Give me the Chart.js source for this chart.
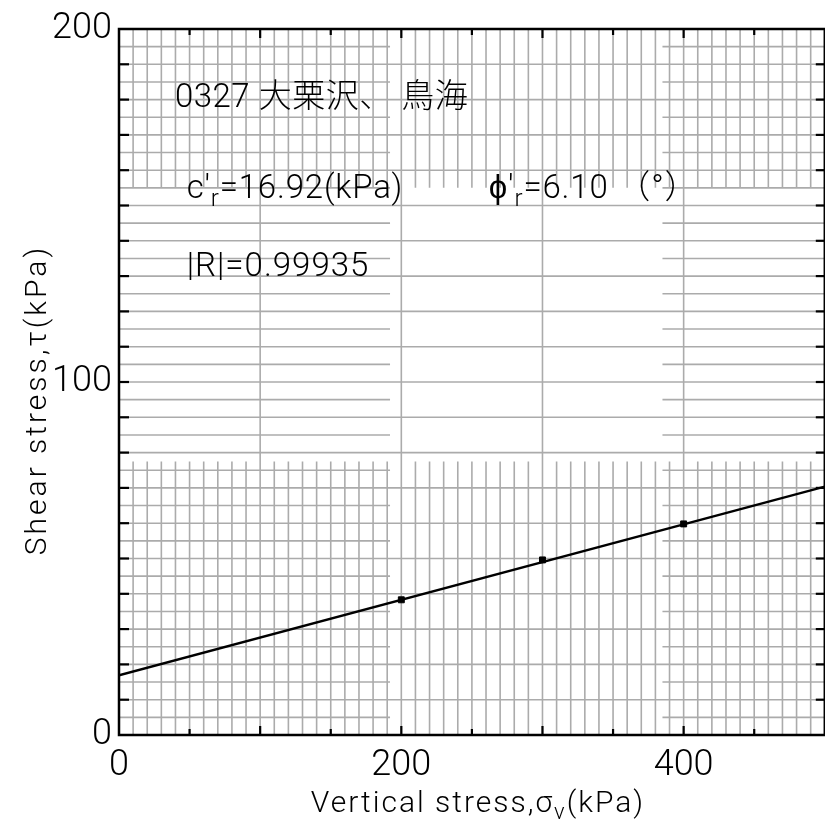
<!DOCTYPE html>
<html><head><meta charset="utf-8">
<script src="https://cdn.jsdelivr.net/npm/chart.js@4.4.0/dist/chart.umd.min.js"></script>
<style>
html,body{margin:0;padding:0;background:#fff;overflow:hidden;width:825px;height:821px;}
#wrap{position:absolute;left:0;top:0;width:830px;height:821px;}
canvas{display:block;}
</style></head><body>
<div id="wrap"><canvas id="c" width="830" height="821"></canvas></div>
<script>
// ---- data ----
const sigmaV = [200, 300, 400];            // vertical stress, kPa
const tauMeasured = [38.3, 49.6, 59.8];     // shear stress, kPa
const fitSigma = [0, 500];                  // fitted failure line ends
const fitTau = [16.92, 70.35];
const xTickLabels = [0, 200, 400];
const yTickLabels = [0, 100, 200];
const sampleTitle = '0327 大栗沢、 鳥海';
const cohesionLabel = [["c'", ''], ['r', 'sub'], ['=16.92(kPa)', '']];
const frictionLabel = [["ϕ'", ''], ['r', 'sub'], ['=6.10 （°）', '']];
const corrLabel = [['|R|=0.99935', '']];
const xTitle = [['Vertical stress,σ', ''], ['v', 'sub'], ['(kPa)', '']];
const yTitle = [['Shear stress,τ(kPa)', '']];

const FAMILY = 'Roboto, "Noto Sans CJK JP", sans-serif';
const WEIGHT = '300 ';

function drawRich(ctx, parts, x, y, size, align, spacing) {
  ctx.letterSpacing = (spacing || 0) + 'px';
  const widths = parts.map(([t, k]) => {
    ctx.font = WEIGHT + (k === 'sub' ? Math.round(size * 0.72) : size) + 'px ' + FAMILY;
    return ctx.measureText(t).width;
  });
  const total = widths.reduce((a, b) => a + b, 0);
  let cx = align === 'center' ? x - total / 2 : x;
  ctx.textAlign = 'left';
  ctx.textBaseline = 'alphabetic';
  parts.forEach(([t, k], i) => {
    ctx.font = WEIGHT + (k === 'sub' ? Math.round(size * 0.72) : size) + 'px ' + FAMILY;
    ctx.fillText(t, cx, k === 'sub' ? y + size * 0.22 : y);
    cx += widths[i];
  });
  ctx.letterSpacing = '0px';
}

const paperGrid = {
  id: 'paperGrid',
  beforeDatasetsDraw(chart) {
    const { ctx, chartArea: a, scales: { x, y } } = chart;
    const X = v => x.getPixelForValue(v), Y = v => y.getPixelForValue(v);
    ctx.save();
    ctx.beginPath(); ctx.rect(a.left, a.top, a.right - a.left, a.bottom - a.top); ctx.clip();
    ctx.strokeStyle = '#ababab'; ctx.lineWidth = 1.6;
    const seg = (x1, y1, x2, y2) => { ctx.beginPath(); ctx.moveTo(x1, y1); ctx.lineTo(x2, y2); ctx.stroke(); };
    for (let v = 10; v < 500; v += 10) {
      const px = X(v);
      if (v % 100 === 0) seg(px, Y(0), px, Y(200));
      else { seg(px, Y(0), px, Y(77.5)); seg(px, Y(155), px, Y(200)); }
    }
    for (let v = 5; v < 200; v += 5) {
      const py = Y(v);
      if (v % 10 === 0) seg(X(0), py, X(500), py);
      else { seg(X(0), py, X(192), py); seg(X(385), py, X(500), py); }
    }
    ctx.restore();
  },
  afterDatasetsDraw(chart) {
    const { ctx, chartArea: a, scales: { x, y } } = chart;
    const X = v => x.getPixelForValue(v), Y = v => y.getPixelForValue(v);
    ctx.save();
    ctx.strokeStyle = '#000';
    ctx.lineWidth = 2.5;
    ctx.beginPath();
    ctx.moveTo(a.left, a.top); ctx.lineTo(a.left, a.bottom); ctx.lineTo(a.right, a.bottom);
    ctx.lineTo(a.right, a.top); ctx.closePath(); ctx.stroke();
    ctx.lineWidth = 2.2;
    const seg = (x1, y1, x2, y2) => { ctx.beginPath(); ctx.moveTo(x1, y1); ctx.lineTo(x2, y2); ctx.stroke(); };
    for (let v = 10; v < 200; v += 10) {
      seg(a.left, Y(v), a.left + 10, Y(v));
      seg(a.right, Y(v), a.right - 9, Y(v));
    }
    for (let v = 50; v < 500; v += 50) {
      const len = v % 100 === 0 ? 9 : 6;
      seg(X(v), a.bottom, X(v), a.bottom - len);
      seg(X(v), a.top, X(v), a.top + len);
    }
    ctx.restore();
  },
  afterDraw(chart) {
    const { ctx, scales: { x, y } } = chart;
    const X = v => x.getPixelForValue(v), Y = v => y.getPixelForValue(v);
    ctx.save();
    ctx.fillStyle = '#000';
    drawRich(ctx, [[sampleTitle, '']], X(39.6), Y(178), 33, 'left', 0.5);
    drawRich(ctx, cohesionLabel, X(48), Y(152), 33, 'left', 0.8);
    drawRich(ctx, frictionLabel, X(262), Y(152), 33, 'left', 0.8);
    drawRich(ctx, corrLabel, X(48), Y(130), 33, 'left', 1);
    drawRich(ctx, xTitle, 478, 812, 30, 'center', 2);
    ctx.save();
    ctx.translate(46, 400);
    ctx.rotate(-Math.PI / 2);
    drawRich(ctx, yTitle, 0, 0, 30, 'center', 3);
    ctx.restore();
    ctx.restore();
  }
};

new Chart(document.getElementById('c'), {
  type: 'scatter',
  data: {
    datasets: [
      {
        type: 'line',
        data: fitSigma.map((s, i) => ({ x: s, y: fitTau[i] })),
        borderColor: '#000', borderWidth: 2.4, pointRadius: 0, fill: false, order: 2
      },
      {
        type: 'scatter',
        data: sigmaV.map((s, i) => ({ x: s, y: tauMeasured[i] })),
        pointStyle: 'rect', pointRadius: 4.2, backgroundColor: '#000', borderColor: '#000', order: 1
      }
    ]
  },
  options: {
    responsive: false, animation: false,
    layout: { padding: { top: 29, right: 3.5, left: 0, bottom: 0 } },
    plugins: { legend: { display: false }, tooltip: { enabled: false } },
    scales: {
      x: {
        type: 'linear', min: 0, max: 500,
        afterFit(s) { s.height = 86; },
        afterBuildTicks(s) { s.ticks = xTickLabels.map(v => ({ value: v })); },
        grid: { display: false, drawTicks: false }, border: { display: false },
        ticks: { padding: 9, color: '#000', font: { family: FAMILY, size: 36, weight: 300 }, maxRotation: 0, autoSkip: false }
      },
      y: {
        type: 'linear', min: 0, max: 200,
        afterFit(s) { s.width = 119; },
        afterBuildTicks(s) { s.ticks = yTickLabels.map(v => ({ value: v })); },
        grid: { display: false, drawTicks: false }, border: { display: false },
        ticks: { padding: 7, color: '#000', font: { family: FAMILY, size: 36, weight: 300 }, autoSkip: false }
      }
    }
  },
  plugins: [paperGrid]
});
</script>
</body></html>
